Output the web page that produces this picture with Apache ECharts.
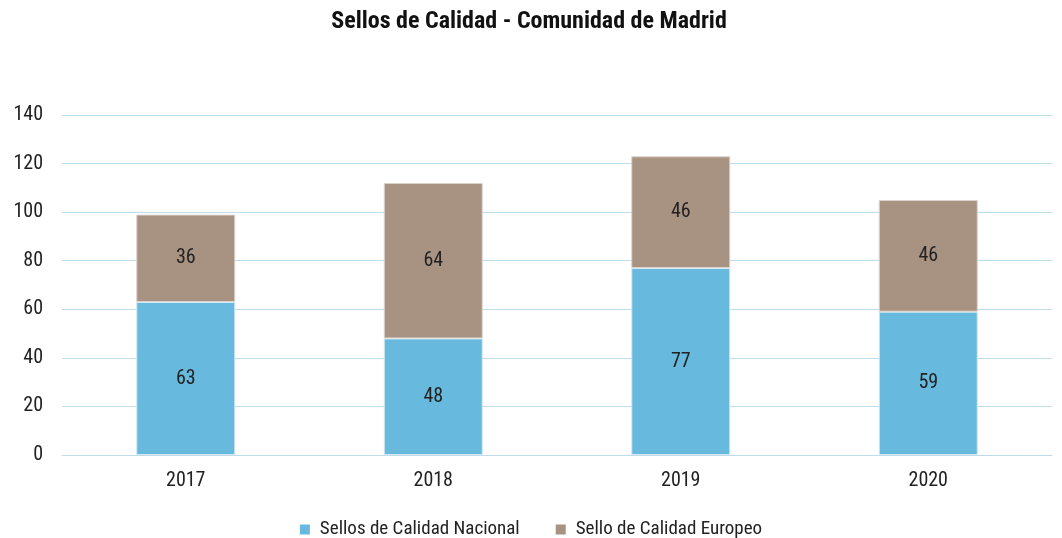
<!DOCTYPE html>
<html>
<head>
<meta charset="utf-8">
<script src="https://cdn.jsdelivr.net/npm/echarts@6/dist/echarts.min.js"></script>
<style>
  html, body { margin: 0; padding: 0; background: #fff; }
  #chart { width: 1062px; height: 538px; }
</style>
</head>
<body>
<div id="chart"></div>
<script>
// datos
var years = ['2017', '2018', '2019', '2020'];
var nacional = [63, 48, 77, 59];
var europeo = [36, 64, 46, 46];
var yTicks = { min: 0, max: 140, interval: 20 };

var font = "'Liberation Sans Narrow', 'Roboto Condensed', Roboto, sans-serif";

var chart = echarts.init(document.getElementById('chart'));
chart.setOption({
  animation: false,
  textStyle: { fontFamily: font },
  title: {
    text: 'Sellos de Calidad - Comunidad de Madrid',
    left: 524,
    top: 5,
    textAlign: 'center',
    textStyle: { fontFamily: font, fontSize: 24, fontWeight: 'bold', color: '#111' }
  },
  legend: {
    top: 515,
    left: 'center',
    itemWidth: 10,
    itemHeight: 10,
    itemGap: 36,
    icon: 'rect',
    itemStyle: { borderWidth: 0 },
    textStyle: { fontFamily: font, fontSize: 19, color: '#222', padding: [0, 0, 0, 5] },
    data: ['Sellos de Calidad Nacional', 'Sello de Calidad Europeo']
  },
  grid: { left: 62, right: 10, top: 115, bottom: 83 },
  xAxis: {
    type: 'category',
    data: years,
    axisTick: { show: false },
    axisLine: { lineStyle: { color: '#BFDCEB', width: 1 } },
    axisLabel: { fontFamily: font, fontSize: 20, color: '#222', margin: 16 }
  },
  yAxis: {
    type: 'value',
    min: yTicks.min,
    max: yTicks.max,
    interval: yTicks.interval,
    axisLine: { show: false },
    axisTick: { show: false },
    axisLabel: { fontFamily: font, fontSize: 20, color: '#222', margin: 19 },
    splitLine: { lineStyle: { color: '#BFDCEB', width: 1 } }
  },
  series: [
    {
      name: 'Sellos de Calidad Nacional',
      type: 'bar',
      stack: 'total',
      barWidth: '40%',
      data: nacional,
      itemStyle: { color: '#67B9DD', borderColor: '#D5E9F2', borderWidth: 1 },
      label: { show: true, position: 'inside', fontFamily: font, fontSize: 20, color: '#222' }
    },
    {
      name: 'Sello de Calidad Europeo',
      type: 'bar',
      stack: 'total',
      barWidth: '40%',
      data: europeo,
      itemStyle: { color: '#A89282', borderColor: '#DDD3CC', borderWidth: 1 },
      label: { show: true, position: 'inside', fontFamily: font, fontSize: 20, color: '#222' }
    }
  ]
});
</script>
</body>
</html>
